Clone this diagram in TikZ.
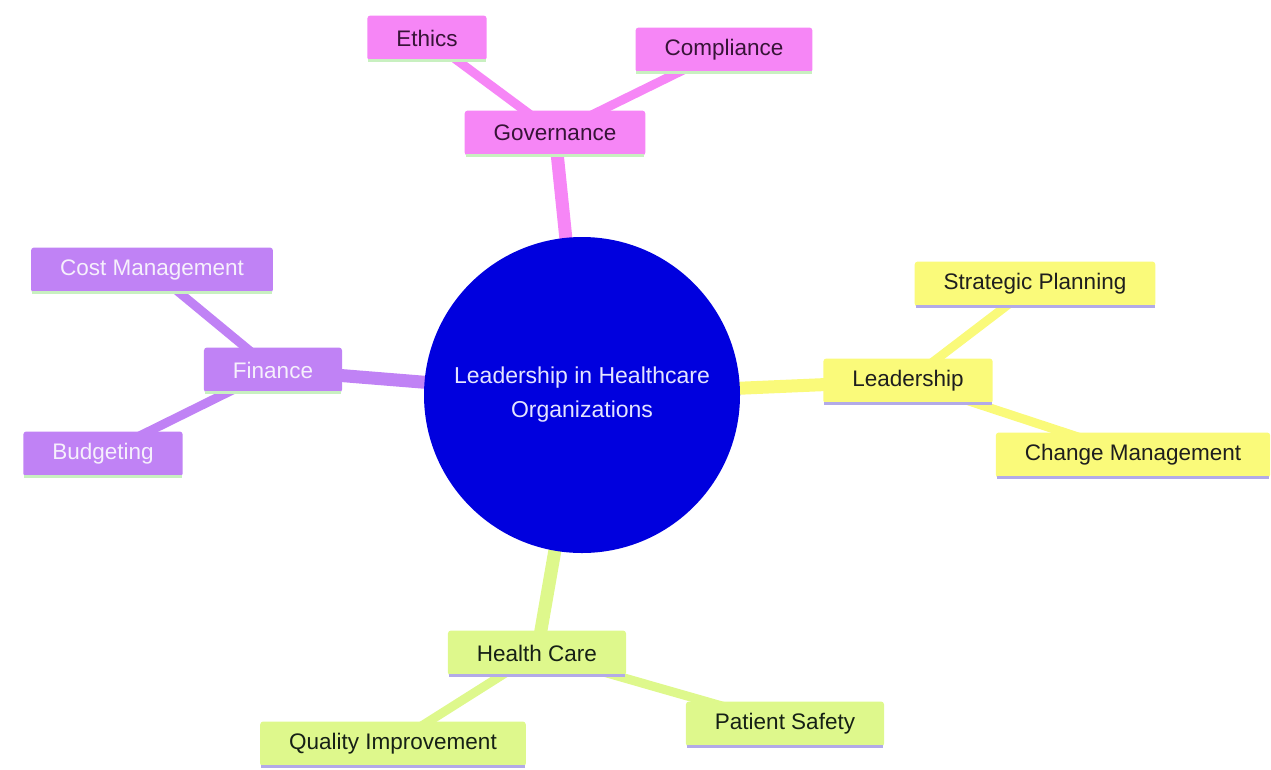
\documentclass[tikz,border=0pt]{standalone}
\usepackage{fontspec}
\setmainfont{Liberation Sans}
\usepackage{tikz}
\usetikzlibrary{positioning,backgrounds}
\tikzset{>=latex}
\usepackage{xcolor}

\definecolor{coreblue}{RGB}{0,0,222}
\definecolor{coretext}{RGB}{228,228,255}
\definecolor{govpink}{RGB}{246,134,246}
\definecolor{govtext}{RGB}{55,20,55}
\definecolor{finviolet}{RGB}{192,130,245}
\definecolor{fintext}{RGB}{246,240,252}
\definecolor{leadyellow}{RGB}{250,250,122}
\definecolor{leadtext}{RGB}{30,30,30}
\definecolor{carelime}{RGB}{222,248,140}
\definecolor{caretext}{RGB}{22,32,22}
\definecolor{ulgreen}{RGB}{200,240,192}
\definecolor{ullilac}{RGB}{178,170,232}

\tikzset{
  branch/.style={rounded corners=3pt, inner xsep=29pt, minimum height=45pt,
    font=\fontsize{22.5}{26}\selectfont},
  govbox/.style={branch, fill=govpink, text=govtext},
  finbox/.style={branch, fill=finviolet, text=fintext},
  leadbox/.style={branch, fill=leadyellow, text=leadtext},
  carebox/.style={branch, fill=carelime, text=caretext},
  trunk/.style={line width=13pt},
  twig/.style={line width=9pt},
}

\begin{document}
\begin{tikzpicture}[x=1pt,y=-1pt]
  \useasboundingbox (0,0) rectangle (1271,769);

  % centre
  \node[circle, fill=coreblue, minimum size=316pt, text=coretext, align=center,
    font=\fontsize{23}{34}\selectfont] (core) at (582,395) {Leadership in Healthcare\\Organizations};

  % governance
  \node[govbox] (gov) at (555,133) {Governance};
  \node[govbox] (ethics) at (427,38) {Ethics};
  \node[govbox] (compl) at (724,50) {Compliance};

  % finance
  \node[finbox] (fin) at (273,370) {Finance};
  \node[finbox] (cost) at (152,270) {Cost Management};
  \node[finbox] (budget) at (103,454) {Budgeting};

  % leadership
  \node[leadbox] (lead) at (908,381) {Leadership};
  \node[leadbox] (strat) at (1035,284) {Strategic Planning};
  \node[leadbox] (change) at (1133,455) {Change Management};

  % health care
  \node[carebox] (care) at (537,653) {Health Care};
  \node[carebox] (quality) at (393,744) {Quality Improvement};
  \node[carebox] (safety) at (785,724) {Patient Safety};

  \begin{scope}[on background layer]
    \draw[trunk, govpink] (core.center) -- (gov.center);
    \draw[trunk, finviolet] (core.center) -- (fin.center);
    \draw[trunk, leadyellow] (core.center) -- (lead.center);
    \draw[trunk, carelime] (core.center) -- (care.center);
    \foreach \a/\b/\c in {gov/ethics/govpink, gov/compl/govpink,
                          fin/cost/finviolet, fin/budget/finviolet,
                          lead/strat/leadyellow, lead/change/leadyellow,
                          care/quality/carelime, care/safety/carelime}
      \draw[twig, \c] (\a.center) -- (\b.center);
  \end{scope}

  % bottom edges of the boxes
  \foreach \n/\c in {gov/ulgreen, ethics/ulgreen, compl/ulgreen, fin/ulgreen, cost/ulgreen, budget/ulgreen,
                     lead/ullilac, strat/ullilac, change/ullilac, care/ullilac, quality/ullilac, safety/ullilac}
    \draw[line width=3pt, \c] ([xshift=1pt]\n.south west) -- ([xshift=-1pt]\n.south east);
\end{tikzpicture}
\end{document}
